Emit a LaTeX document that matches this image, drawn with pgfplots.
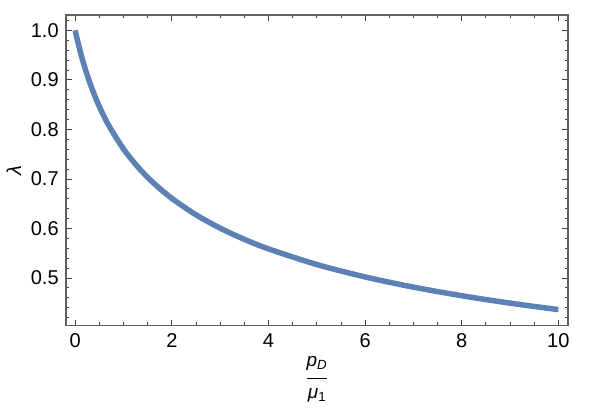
\documentclass[border=0pt]{standalone}
\usepackage{fontspec}
\setmainfont{Liberation Sans}
\usepackage{pgfplots}
\pgfplotsset{compat=1.18}
\definecolor{mblue}{rgb}{0.368417,0.506779,0.709798}
\setlength{\arrayrulewidth}{1bp}
\begin{document}
\fontsize{20bp}{22bp}\selectfont
\begin{tikzpicture}
\begin{axis}[
  scale only axis, width=502bp, height=310.5bp,
  at={(0,0)}, anchor=south west,
  xmin=-0.19, xmax=10.2, ymin=0.404, ymax=1.031,
  xtick={0,2,4,6,8,10},
  ytick={0.5,0.6,0.7,0.8,0.9,1.0},
  minor xtick={0.5,1,1.5,2.5,3,3.5,4.5,5,5.5,6.5,7,7.5,8.5,9,9.5},
  minor ytick={0.42,0.44,0.46,0.48,0.52,0.54,0.56,0.58,0.62,0.64,0.66,0.68,0.72,0.74,0.76,0.78,0.82,0.84,0.86,0.88,0.92,0.94,0.96,0.98,1.02},
  xtick pos=both, ytick pos=both,
  xticklabel pos=lower, yticklabel pos=left,
  tick align=inside,
  major tick length=6bp, minor tick length=3.5bp,
  every tick/.style={black!75, line width=0.8bp},
  axis line style={draw=black!62, line width=1.2bp},
  /pgf/number format/assume math mode=true,
  yticklabel style={/pgf/number format/fixed, /pgf/number format/fixed zerofill, /pgf/number format/precision=1, xshift=-0.5bp},
  tick label style={font=\fontsize{20bp}{22bp}\selectfont},
  xticklabel style={yshift=-1.5bp},
  ylabel={\textit{λ}},
  ylabel style={at={(axis description cs:-0.1036,0.5)}, anchor=center, inner sep=0pt, font=\fontsize{20bp}{22bp}\selectfont},
  xlabel={\begin{tabular}{@{}c@{}}\textit{p}\textsubscript{\textit{D}}\\[4.4bp]\hline\rule{0pt}{20bp}\textit{μ}\textsubscript{1}\end{tabular}},
  xlabel style={at={(axis description cs:0.5,0)}, anchor=north, yshift=-25.7bp, inner sep=0pt, font=\fontsize{19bp}{22bp}\selectfont},
]
\addplot[mblue, line width=5.5bp, smooth] coordinates {
(0,1.0)(0.02,0.99123)(0.05,0.97867)(0.1,0.95919)(0.15,0.94128)(0.2,0.92473)(0.3,0.89507)(0.4,0.86914)(0.5,0.84617)(0.7,0.80708)(1.0,0.76058)(1.3,0.72382)(1.6,0.69369)(2.0,0.66075)(2.5,0.62759)(3.0,0.60063)(3.5,0.57805)(4.0,0.55875)(5.0,0.52716)(6.0,0.50210)(7.0,0.48149)(8.0,0.46411)(9.0,0.44916)(10.0,0.43609)
};
\end{axis}
\path[use as bounding box] (-66bp,-86.5bp) rectangle (525bp,325.5bp);
\end{tikzpicture}
\end{document}
